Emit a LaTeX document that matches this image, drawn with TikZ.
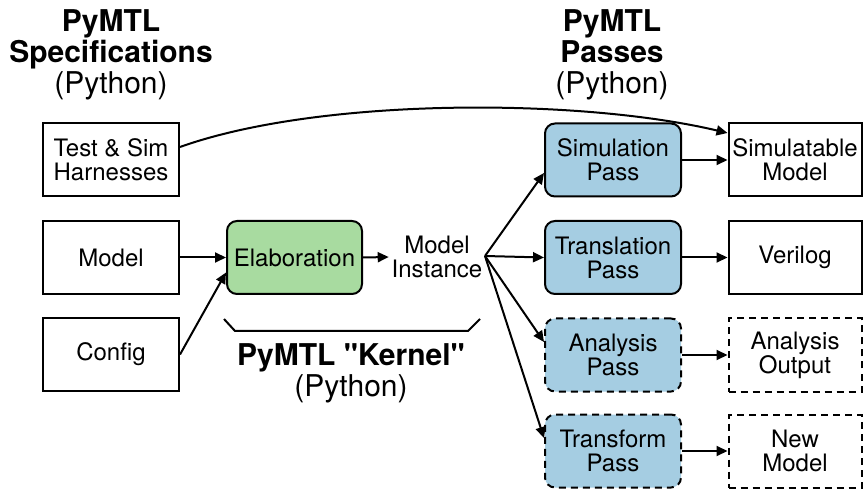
\documentclass[tikz,border=0pt]{standalone}
\usepackage{fontspec}
\setmainfont{TeX Gyre Heros}
\usetikzlibrary{arrows.meta}

\definecolor{elabgreen}{HTML}{A8DBA0}
\definecolor{passblue}{HTML}{A5CDE2}

\newcommand{\bodyfont}{\fontsize{24}{24}\selectfont}
\newcommand{\headfont}{\fontsize{30}{31}\selectfont}

\begin{document}
\begin{tikzpicture}[
  x=1pt, y=-1pt,
  every path/.style={line width=2pt},
  box/.style={draw, line width=2pt, minimum width=136pt, minimum height=73pt,
    align=center, font=\bodyfont, inner sep=0pt},
  passbox/.style={box, rounded corners=10pt, fill=passblue},
  dashbox/.style={dash pattern=on 7pt off 5pt},
  arr/.style={-{Triangle[length=11pt,width=10pt]}},
  heading/.style={align=center, font=\headfont, inner sep=0pt},
]
\useasboundingbox (0,0) rectangle (863,489);

% column headings
\node[heading] (spechead) at (111,55) {\textbf{PyMTL}\\\textbf{Specifications}\\(Python)};
\node[heading] (passhead) at (612,55) {\textbf{PyMTL}\\\textbf{Passes}\\(Python)};

% inputs
\node[box] (harness) at (111,160) {Test \& Sim\\Harnesses};
\node[box] (model)   at (111,257.5) {Model};
\node[box] (config)  at (111,354.5) {Config};

% kernel
\node[box, rounded corners=10pt, fill=elabgreen, minimum width=135pt] (elab) at (294.5,257.5) {Elaboration};
\node[align=center, font=\bodyfont, inner sep=2pt] (inst) at (437,257) {Model\\Instance};
\coordinate (fan) at (485,256);

% passes
\node[passbox] (simpass)   at (613,160)   {Simulation\\Pass};
\node[passbox] (transpass) at (613,257.5) {Translation\\Pass};
\node[passbox, dashbox] (anapass)   at (613,355) {Analysis\\Pass};
\node[passbox, dashbox] (xformpass) at (613,451) {Transform\\Pass};

% outputs
\node[box, minimum width=133pt] (simmodel) at (795,160)   {Simulatable\\Model};
\node[box, minimum width=133pt] (verilog)  at (795,257.5) {Verilog};
\node[box, dashbox, minimum width=133pt] (anaout)   at (795,355) {Analysis\\Output};
\node[box, dashbox, minimum width=133pt] (newmodel) at (795,451) {New\\Model};

% connectors
\draw[arr] (model.east) -- (elab.west);
\draw[arr] (config.east) -- ([yshift=-15pt]elab.west);
\draw[arr] (elab.east) -- (inst.west);

\draw[arr] (fan) -- ([yshift=-13pt]simpass.west);
\draw[arr] (fan) -- (transpass.west);
\draw[arr] (fan) -- ([yshift=13pt]anapass.west);
\draw[arr] (fan) -- ([yshift=13pt]xformpass.west);

\draw[arr] ([yshift=13pt]harness.east) .. controls (320,97) and (580,98) .. ([yshift=27pt]simmodel.west);
\draw[arr] (simpass.east) -- (simmodel.west);
\draw[arr] (transpass.east) -- (verilog.west);
\draw[arr] (anapass.east) -- (anaout.west);
\draw[arr] (xformpass.east) -- (newmodel.west);

% kernel bracket
\coordinate (brA) at (224,319);
\coordinate (brB) at (235,331);
\coordinate (brC) at (468,331);
\coordinate (brD) at (480,319);
\draw[line join=round] (brA) -- (brB) -- (brC) -- (brD);
\node[heading] (kernel) at (351,373) {\textbf{PyMTL \textquotedbl Kernel\textquotedbl}\\(Python)};
\end{tikzpicture}
\end{document}
